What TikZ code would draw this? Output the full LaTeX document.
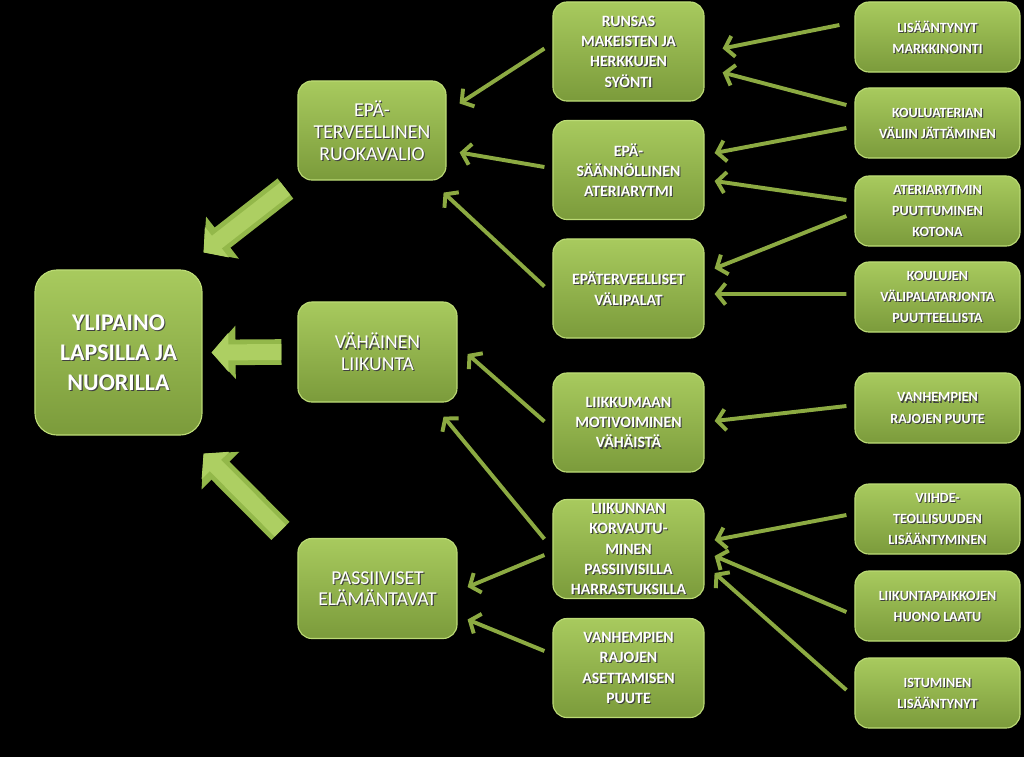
\documentclass[tikz,border=0pt]{standalone}
\usepackage{fontspec}
\setmainfont{Carlito}
\usetikzlibrary{arrows.meta}
\definecolor{boxtop}{HTML}{A8CA5E}
\definecolor{boxbot}{HTML}{7B9B3B}
\definecolor{boxrim}{HTML}{BCDB76}
\definecolor{linkc}{HTML}{8CAA42}
\definecolor{bigc}{HTML}{93B84A}
\definecolor{bigface}{HTML}{ADCF62}

\begin{document}
\begin{tikzpicture}[x=0.025cm,y=-0.025cm,
  box/.style={rounded corners=0.35cm, top color=boxtop, bottom color=boxbot, draw=boxrim, line width=0.8pt, inner sep=0pt},
  mainbox/.style={box, rounded corners=0.55cm, minimum width=4.175cm, minimum height=4.125cm},
  ruokabox/.style={box, minimum width=3.7cm, minimum height=2.475cm},
  catbox/.style={box, minimum width=3.975cm, minimum height=2.5cm},
  midbox/.style={box, minimum width=3.775cm, minimum height=2.475cm},
  rgtbox/.style={box, minimum width=4.125cm, minimum height=1.75cm},
  txt/.style={align=center, text=white, inner sep=0pt},
  mainbox-text/.style={txt, font=\bfseries\fontsize{17}{21.5}\selectfont},
  ruokabox-text/.style={txt, font=\fontsize{14}{15.5}\selectfont},
  catbox-text/.style={txt, font=\fontsize{14}{15.5}\selectfont},
  midbox-text/.style={txt, font=\bfseries\fontsize{11.2}{14.5}\selectfont},
  rgtbox-text/.style={txt, font=\bfseries\fontsize{10}{15}\selectfont},
  link/.style={draw=linkc, line width=2.8pt, -{Straight Barb[length=6pt,width=15pt]}},
  bigarr/.style={draw=bigc, line width=0.64cm, -{Triangle[length=0.6cm,width=1.3cm]},
    postaction={draw=bigface, line width=0.4cm, -{Triangle[length=0.42cm,width=0.95cm]}}}]

  % background
  \fill[black] (0,0) rectangle (1024,757);
  \useasboundingbox (0,0) rectangle (1024,757);

  % boxes with shadowed text
  \foreach \n/\s/\x/\y/\t in {
    main/mainbox/118.5/352.5/{YLIPAINO\\LAPSILLA JA\\NUORILLA},
    ept/ruokabox/372/130.5/{EPÄ-\\TERVEELLINEN\\RUOKAVALIO},
    vah/catbox/377.5/352/{VÄHÄINEN\\LIIKUNTA},
    pas/catbox/377.5/588.5/{PASSIIVISET\\ELÄMÄNTAVAT},
    run/midbox/628.5/51.5/{RUNSAS\\MAKEISTEN JA\\HERKKUJEN\\SYÖNTI},
    eps/midbox/628.5/170/{EPÄ-\\SÄÄNNÖLLINEN\\ATERIARYTMI},
    evp/midbox/628.5/288.5/{EPÄTERVEELLISET\\VÄLIPALAT},
    liik/midbox/628.5/422.5/{LIIKKUMAAN\\MOTIVOIMINEN\\VÄHÄISTÄ},
    korv/midbox/628.5/549/{LIIKUNNAN\\KORVAUTU-\\MINEN\\PASSIIVISILLA\\HARRASTUKSILLA},
    vras/midbox/628.5/668/{VANHEMPIEN\\RAJOJEN\\ASETTAMISEN\\PUUTE},
    lisa/rgtbox/937.5/37/{LISÄÄNTYNYT\\MARKKINOINTI},
    koul/rgtbox/937.5/123/{KOULUATERIAN\\VÄLIIN JÄTTÄMINEN},
    ater/rgtbox/937.5/211/{ATERIARYTMIN\\PUUTTUMINEN\\KOTONA},
    kvp/rgtbox/937.5/297/{KOULUJEN\\VÄLIPALATARJONTA\\PUUTTEELLISTA},
    vrp/rgtbox/937.5/408/{VANHEMPIEN\\RAJOJEN PUUTE},
    viih/rgtbox/937.5/519/{VIIHDE-\\TEOLLISUUDEN\\LISÄÄNTYMINEN},
    lpk/rgtbox/937.5/606/{LIIKUNTAPAIKKOJEN\\HUONO LAATU},
    ist/rgtbox/937.5/693/{ISTUMINEN\\LISÄÄNTYNYT}} {
    \node[\s] (\n) at (\x,\y) {};
    \node[\s-text, text=black!75] at ([shift={(0.8pt,-0.8pt)}]\n) {\t};
    \node[\s-text] at (\n) {\t};
  }

  % thin arrows
  \foreach \a/\ax/\ay/\b/\bx/\by in {
    lisa.west/-15/-12/run.east/18/-3,
    koul.west/-8/-18/run.east/18/21,
    koul.west/-8/5/eps.east/10/-17,
    ater.west/-8/-11/eps.east/10/11,
    ater.west/-8/5/evp.east/10/-20,
    kvp.west/-8/-3/evp.east/10/5.5,
    vrp.west/-8/-2/liik.east/10/-1.5,
    viih.west/-8/-4/korv.east/10/-9,
    lpk.west/-8/6/korv.east/10/7,
    ist.west/-8/-3/korv.east/10/24,
    run.west/-8/-3/ept.east/13/-27,
    eps.west/-8/-3/ept.east/13/22,
    evp.west/-8/-2/ept.south east/-3/12,
    liik.west/-8/-1/vah.east/10/2,
    korv.west/-8/-10/vah.south east/-14/14,
    korv.west/-8/6/pas.east/10/-1.5,
    vras.west/-8/-17/pas.east/10/31} {
    \draw[link] ([shift={(\ax,\ay)}]\a) -- ([shift={(\bx,\by)}]\b);
  }

  % block arrows to the main box
  \draw[bigarr] ([shift={(-12,8)}]ept.south west) -- ([shift={(1,-17)}]main.north east);
  \draw[bigarr] ([shift={(-16,0)}]vah.west) -- ([shift={(9,0)}]main.east);
  \draw[bigarr] ([shift={(-17,-7)}]pas.north west) -- ([shift={(1,18)}]main.south east);
\end{tikzpicture}
\end{document}
